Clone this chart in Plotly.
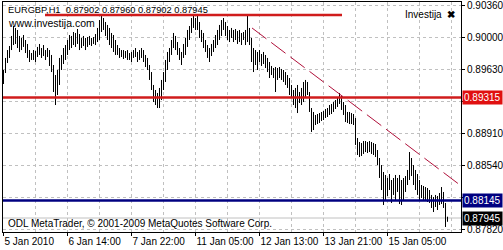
import plotly.graph_objects as go

# ---- data (EURGBP H1 bars: high / low) ----
highs = [0.89627,0.89764,0.89854,0.89900,0.90014,0.90127,0.90105,0.90082,0.90014,0.89991,
         0.90025,0.89968,0.89923,0.89854,0.89820,0.89854,0.89843,0.89889,0.89923,0.89877,
         0.89911,0.89854,0.89877,0.89854,0.89798,0.89684,0.89570,0.89627,0.89764,0.89798,
         0.89877,0.89911,0.89968,0.90025,0.90014,0.90059,0.90048,0.90093,0.90036,0.89991,
         0.90014,0.89991,0.90002,0.90014,0.89991,0.90002,0.90036,0.90105,0.90195,0.90252,
         0.90218,0.90173,0.90139,0.90105,0.90048,0.90025,0.89968,0.89911,0.89877,0.89854,
         0.89854,0.89843,0.89854,0.89820,0.89832,0.89854,0.89877,0.89832,0.89854,0.89877,
         0.89854,0.89798,0.89764,0.89684,0.89604,0.89457,0.89400,0.89366,0.89423,0.89514,
         0.89604,0.89741,0.89832,0.89877,0.89968,0.90048,0.90014,0.89945,0.89877,0.89832,
         0.89923,0.89991,0.90082,0.90127,0.90218,0.90252,0.90218,0.90241,0.90173,0.90082,
         0.90048,0.89968,0.89911,0.89877,0.89923,0.89968,0.90025,0.90082,0.90139,0.90195,
         0.90218,0.90173,0.90127,0.90082,0.90105,0.90082,0.90093,0.90071,0.90082,0.90048,
         0.90059,0.90082,0.90252,0.90105,0.89991,0.89877,0.89854,0.89832,0.89854,0.89809,
         0.89832,0.89798,0.89764,0.89718,0.89673,0.89650,0.89661,0.89650,0.89661,0.89639,
         0.89627,0.89604,0.89570,0.89536,0.89457,0.89400,0.89423,0.89457,0.89377,0.89423,
         0.89491,0.89514,0.89491,0.89377,0.89195,0.89150,0.89116,0.89127,0.89138,0.89150,
         0.89161,0.89184,0.89195,0.89229,0.89241,0.89263,0.89286,0.89320,0.89366,0.89332,
         0.89263,0.89229,0.89150,0.89150,0.89138,0.89127,0.89082,0.88854,0.88809,0.88797,
         0.88820,0.88820,0.88809,0.88820,0.88809,0.88797,0.88786,0.88718,0.88627,0.88547,
         0.88468,0.88434,0.88400,0.88445,0.88377,0.88400,0.88434,0.88400,0.88434,0.88377,
         0.88400,0.88422,0.88491,0.88695,0.88627,0.88547,0.88491,0.88445,0.88377,0.88320,
         0.88309,0.88297,0.88286,0.88263,0.88207,0.88184,0.88207,0.88195,0.88229,0.88297,
         0.88241,0.88116,0.87960]
lows = [0.89468,0.89593,0.89707,0.89764,0.89854,0.89911,0.89923,0.89877,0.89832,0.89854,
        0.89889,0.89820,0.89764,0.89718,0.89741,0.89741,0.89718,0.89775,0.89798,0.89764,
        0.89786,0.89741,0.89775,0.89673,0.89604,0.89377,0.89229,0.89343,0.89457,0.89627,
        0.89695,0.89741,0.89798,0.89854,0.89877,0.89911,0.89889,0.89923,0.89854,0.89877,
        0.89900,0.89854,0.89889,0.89911,0.89900,0.89923,0.89911,0.89945,0.89968,0.90059,
        0.90082,0.90014,0.89968,0.89911,0.89877,0.89832,0.89798,0.89798,0.89764,0.89775,
        0.89752,0.89764,0.89741,0.89741,0.89718,0.89764,0.89775,0.89718,0.89741,0.89764,
        0.89718,0.89661,0.89627,0.89514,0.89400,0.89263,0.89229,0.89195,0.89195,0.89286,
        0.89400,0.89491,0.89627,0.89718,0.89798,0.89877,0.89854,0.89798,0.89741,0.89684,
        0.89764,0.89798,0.89889,0.89968,0.90048,0.90105,0.90082,0.90082,0.89991,0.89945,
        0.89877,0.89832,0.89764,0.89718,0.89786,0.89832,0.89877,0.89911,0.89968,0.90014,
        0.90082,0.90014,0.89968,0.89945,0.89991,0.89945,0.89968,0.89923,0.89945,0.89911,
        0.89968,0.89911,0.89945,0.89911,0.89718,0.89604,0.89684,0.89627,0.89718,0.89673,
        0.89695,0.89650,0.89604,0.89536,0.89570,0.89536,0.89377,0.89514,0.89536,0.89514,
        0.89491,0.89457,0.89423,0.89343,0.89309,0.89229,0.89195,0.89138,0.89252,0.89229,
        0.89263,0.89309,0.89343,0.89150,0.88923,0.88945,0.89002,0.89013,0.89025,0.89048,
        0.89059,0.89082,0.89093,0.89116,0.89127,0.89150,0.89184,0.89207,0.89241,0.89173,
        0.89116,0.89036,0.89025,0.89013,0.89013,0.89002,0.88775,0.88661,0.88638,0.88650,
        0.88673,0.88695,0.88684,0.88695,0.88673,0.88661,0.88638,0.88547,0.88400,0.88263,
        0.88093,0.88150,0.88195,0.88263,0.88116,0.88207,0.88150,0.88241,0.88104,0.88093,
        0.88150,0.88241,0.88320,0.88377,0.88422,0.88320,0.88263,0.88207,0.88138,0.88172,
        0.88150,0.88150,0.88127,0.88116,0.88059,0.88013,0.88070,0.88036,0.88093,0.88104,
        0.88059,0.87843,0.87902]

date_tick_bars = [0, 32, 64, 96, 128, 160, 192]
date_tick_labels = ["5 Jan 2010", "6 Jan 14:00", "7 Jan 22:00", "11 Jan 05:00",
                    "12 Jan 13:00", "13 Jan 21:00", "15 Jan 05:00"]
minor_grid_bars = [16, 48, 80, 112, 144, 176, 208, 224]
price_ticks = [0.90360, 0.90000, 0.89630, 0.89270, 0.88910, 0.88540, 0.88180, 0.87820]
price_tick_labels = ["0.90360", "0.90000", "0.89630", "", "0.88910", "0.88540", "", "0.87820"]

resistance_top = 0.90252
resistance_top_bars = [20.75, 169.25]
red_level = 0.89315
blue_level = 0.88145
last_price = 0.87945
trend_bars = [124.25, 228.25]
trend_prices = [0.90105, 0.88320]

title_text = "EURGBP,H1  0.87902 0.87960 0.87902 0.87945"

FONT = "Liberation Sans, Arial, sans-serif"

# ---- build bar segments ----
bx, by = [], []
for i, (h, l) in enumerate(zip(highs, lows)):
    bx += [i, i, None]
    by += [l, h, None]

fig = go.Figure()

fig.add_trace(go.Scatter(x=[-0.25, 228.75], y=[last_price, last_price], mode="lines",
                         line=dict(color="#c0c0c0", width=1), hoverinfo="skip"))
fig.add_trace(go.Scatter(x=bx, y=by, mode="lines", line=dict(color="black", width=1),
                         hoverinfo="skip"))
fig.add_trace(go.Scatter(x=[-0.25, 228.75], y=[red_level, red_level], mode="lines",
                         line=dict(color="#d01c1c", width=2.5), hoverinfo="skip"))
fig.add_trace(go.Scatter(x=[-0.25, 228.75], y=[blue_level, blue_level], mode="lines",
                         line=dict(color="#000080", width=2.5), hoverinfo="skip"))
fig.add_trace(go.Scatter(x=resistance_top_bars, y=[resistance_top, resistance_top], mode="lines",
                         line=dict(color="#d01c1c", width=2.5), hoverinfo="skip"))
fig.add_trace(go.Scatter(x=trend_bars, y=trend_prices, mode="lines",
                         line=dict(color="#b0103a", width=1, dash="18px,6px"), hoverinfo="skip"))

annotations = [
    dict(text=title_text, x=0, y=1, xref="paper", yref="paper", xanchor="left", yanchor="top",
         xshift=3, yshift=-1, showarrow=False, font=dict(family=FONT, size=9.3, color="black")),
    dict(text="www.investija.com", x=0, y=1, xref="paper", yref="paper", xanchor="left",
         yanchor="top", xshift=3, yshift=-13, showarrow=False,
         font=dict(family=FONT, size=10.5, color="black")),
    dict(text="Investija  <b>✖</b>", x=1, y=1, xref="paper", yref="paper", xanchor="right",
         yanchor="top", xshift=-4, yshift=-5, showarrow=False,
         font=dict(family=FONT, size=10, color="black")),
    dict(text="ODL MetaTrader, © 2001-2009 MetaQuotes Software Corp.", x=0, y=0, xref="paper",
         yref="paper", xanchor="left", yanchor="bottom", xshift=3, yshift=1, showarrow=False,
         font=dict(family=FONT, size=10, color="black")),
]
for val, bg in [(red_level, "#e01010"), (blue_level, "#000080"), (last_price, "#000000")]:
    annotations.append(dict(text=f"{val:.5f}", x=1, y=val, xref="paper", yref="y",
                            xanchor="left", yanchor="middle", xshift=1, showarrow=False,
                            bgcolor=bg, borderpad=1,
                            font=dict(family=FONT, size=10, color="white")))

fig.update_layout(
    width=503, height=250,
    margin=dict(l=3, r=42, t=2, b=18, autoexpand=False),
    paper_bgcolor="white", plot_bgcolor="white",
    showlegend=False,
    font=dict(family=FONT, size=10, color="black"),
    annotations=annotations,
)
fig.update_xaxes(
    range=[-0.25, 228.75], tickvals=date_tick_bars, ticktext=date_tick_labels,
    tickangle=0, automargin=False,
    ticklabelposition="outside right", ticks="outside", ticklen=3, tickcolor="black",
    showgrid=True, gridcolor="#c0c0c0", griddash="3px,3px", gridwidth=1,
    minor=dict(tickvals=minor_grid_bars, showgrid=True, gridcolor="#c0c0c0",
               griddash="3px,3px", ticks=""),
    showline=True, linecolor="black", linewidth=1, mirror=True, zeroline=False,
    tickfont=dict(family=FONT, size=10),
)
fig.update_yaxes(
    range=[0.87786, 0.90400], side="right", tickvals=price_ticks,
    ticktext=price_tick_labels, automargin=False,
    ticks="outside", ticklen=3, tickcolor="black",
    showgrid=True, gridcolor="#c0c0c0", griddash="3px,3px", gridwidth=1,
    showline=True, linecolor="black", linewidth=1, mirror=True, zeroline=False,
    tickfont=dict(family=FONT, size=10),
)

fig.write_html("out.html")
